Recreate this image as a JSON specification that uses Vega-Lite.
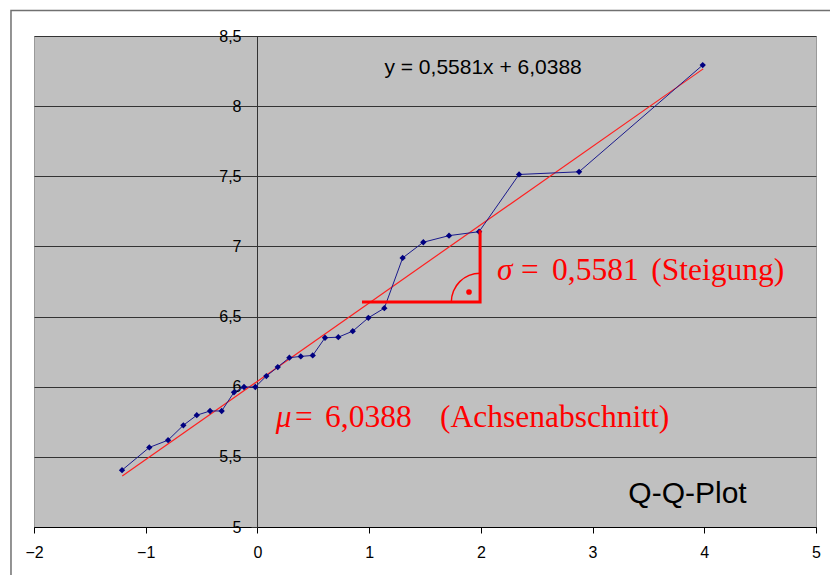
{
  "$schema": "https://vega.github.io/schema/vega-lite/v6.json",
  "width": 782,
  "height": 491,
  "autosize": {"type": "none"},
  "padding": {"left": 34, "top": 36, "right": 14, "bottom": 48},
  "background": "white",
  "config": {
    "view": {"fill": "#c0c0c0", "stroke": "#9a9a9a", "strokeWidth": 1},
    "font": "Liberation Sans"
  },
  "datasets": {
    "qq": [
      {"x": -1.212, "y": 5.405}, {"x": -0.968, "y": 5.567}, {"x": -0.8, "y": 5.619},
      {"x": -0.663, "y": 5.725}, {"x": -0.543, "y": 5.797}, {"x": -0.424, "y": 5.827},
      {"x": -0.32, "y": 5.827}, {"x": -0.21, "y": 5.96}, {"x": -0.12, "y": 5.998},
      {"x": -0.019, "y": 5.998}, {"x": 0.08, "y": 6.076}, {"x": 0.182, "y": 6.14},
      {"x": 0.286, "y": 6.207}, {"x": 0.388, "y": 6.216}, {"x": 0.495, "y": 6.223},
      {"x": 0.605, "y": 6.349}, {"x": 0.724, "y": 6.353}, {"x": 0.853, "y": 6.396},
      {"x": 0.993, "y": 6.491}, {"x": 1.136, "y": 6.56}, {"x": 1.3, "y": 6.918},
      {"x": 1.485, "y": 7.03}, {"x": 1.715, "y": 7.077}, {"x": 1.984, "y": 7.105},
      {"x": 2.342, "y": 7.513}, {"x": 2.879, "y": 7.532}, {"x": 3.986, "y": 8.293}
    ],
    "fit": [{"x": -1.21, "y": 5.3635}, {"x": 3.99, "y": 8.2656}],
    "tri": [
      {"x": 0.936, "y": 6.604, "o": 1},
      {"x": 1.993, "y": 6.604, "o": 2},
      {"x": 1.993, "y": 7.116, "o": 3}
    ],
    "corner": [{"x": 1.993, "y": 6.604}],
    "dot": [{"x": 1.894, "y": 6.675}],
    "frame": [{"x": -2.206, "x2": 5.8, "y": 4.4, "y2": 8.682}],
    "eq": [{"x": 2.02, "y": 8.275, "t": "y = 0,5581x + 6,0388"}],
    "qqlabel": [{"x": 3.85, "y": 5.237, "t": "Q-Q-Plot"}],
    "italic": [
      {"x": 2.145, "y": 6.824, "t": "σ"},
      {"x": 0.164, "y": 5.78, "t": "μ"}
    ],
    "upright": [
      {"x": 2.36, "y": 6.824, "t": "="},
      {"x": 2.637, "y": 6.824, "t": "0,5581"},
      {"x": 3.525, "y": 6.824, "t": "(Steigung)"},
      {"x": 0.337, "y": 5.78, "t": "="},
      {"x": 0.605, "y": 5.78, "t": "6,0388"},
      {"x": 1.635, "y": 5.78, "t": "(Achsenabschnitt)"}
    ]
  },
  "encoding": {
    "x": {
      "field": "x", "type": "quantitative",
      "scale": {"domain": [-2, 5], "nice": false, "zero": false},
      "axis": {
        "title": null, "values": [-2, -1, 0, 1, 2, 3, 4, 5], "grid": false,
        "domainColor": "black", "tickColor": "black", "tickSize": 6,
        "labelFontSize": 16, "labelColor": "black", "labelPadding": 11,
        "labelFont": "Liberation Sans", "labelFlush": false
      }
    },
    "y": {
      "field": "y", "type": "quantitative",
      "scale": {"domain": [5, 8.5], "nice": false, "zero": false},
      "axis": {
        "title": null, "values": [5, 5.5, 6, 6.5, 7, 7.5, 8, 8.5],
        "offset": -223,
        "labelExpr": "replace(format(datum.value, '~g'), '.', ',')",
        "grid": true, "gridColor": "#333333", "gridWidth": 1, "gridOpacity": 1,
        "domainColor": "#333333", "tickColor": "#333333", "tickSize": 6,
        "labelFontSize": 16, "labelColor": "black", "labelPadding": 10,
        "labelFont": "Liberation Sans", "labelFlush": false
      }
    }
  },
  "layer": [
    {
      "data": {"name": "frame"},
      "mark": {"type": "rect", "fill": null, "fillOpacity": 0, "stroke": "#707070", "strokeWidth": 1.5, "clip": false},
      "encoding": {"x2": {"field": "x2"}, "y2": {"field": "y2"}}
    },
    {
      "data": {"name": "fit"},
      "mark": {"type": "line", "color": "#ff2020", "strokeWidth": 1.2},
      "encoding": {}
    },
    {
      "data": {"name": "qq"},
      "mark": {"type": "line", "color": "#1a1a8c", "strokeWidth": 1, "point": {"shape": "diamond", "size": 40, "filled": true, "color": "#000080"}},
      "encoding": {}
    },
    {
      "data": {"name": "tri"},
      "mark": {"type": "line", "color": "#ff0000", "strokeWidth": 3},
      "encoding": {"order": {"field": "o", "type": "quantitative"}}
    },
    {
      "data": {"name": "corner"},
      "mark": {"type": "arc", "color": "#ff0000", "radius": 29.5, "radius2": 28, "theta": -1.5708, "theta2": 0},
      "encoding": {}
    },
    {
      "data": {"name": "dot"},
      "mark": {"type": "circle", "color": "#ff0000", "size": 32, "opacity": 1},
      "encoding": {}
    },
    {
      "data": {"name": "eq"},
      "mark": {"type": "text", "font": "Liberation Sans", "fontSize": 21, "color": "black", "align": "center", "baseline": "middle"},
      "encoding": {"text": {"field": "t"}}
    },
    {
      "data": {"name": "qqlabel"},
      "mark": {"type": "text", "font": "Liberation Sans", "fontSize": 30, "color": "black", "align": "center", "baseline": "middle"},
      "encoding": {"text": {"field": "t"}}
    },
    {
      "data": {"name": "italic"},
      "mark": {"type": "text", "font": "Liberation Serif", "fontStyle": "italic", "fontSize": 31.5, "color": "#ff0000", "align": "left", "baseline": "middle"},
      "encoding": {"text": {"field": "t"}}
    },
    {
      "data": {"name": "upright"},
      "mark": {"type": "text", "font": "Liberation Serif", "fontSize": 31.5, "color": "#ff0000", "align": "left", "baseline": "middle"},
      "encoding": {"text": {"field": "t"}}
    }
  ]
}
